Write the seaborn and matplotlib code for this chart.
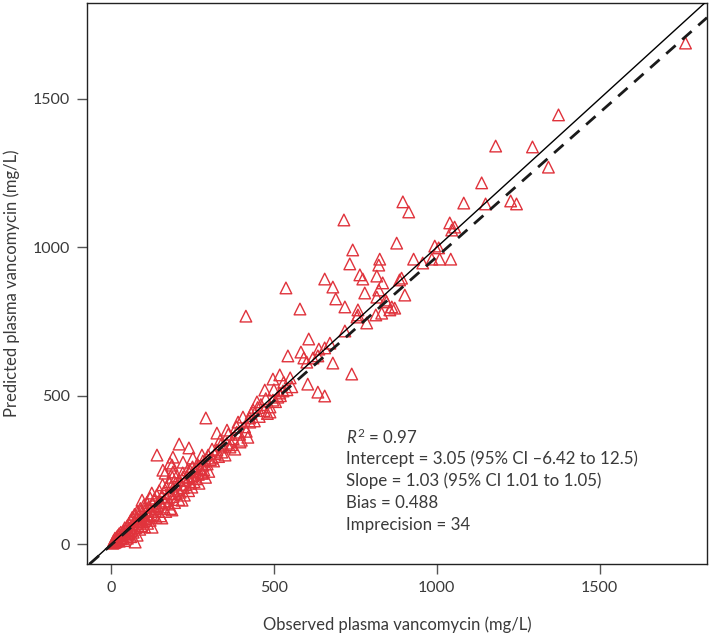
import numpy as np
import pandas as pd
import matplotlib
matplotlib.use('Agg')
import matplotlib.pyplot as plt
import seaborn as sns

# Observed vs predicted plasma vancomycin (mg/L)
observed = [
    1764, 1374, 1294, 1181, 1343, 1138, 1083, 1150, 1227, 1245,
    896, 914, 715, 877, 1040, 1055, 1046, 994, 1006, 742,
    929, 957, 985, 1009, 1043, 733, 825, 822, 764, 773,
    816, 892, 886, 834, 681, 779, 822, 816, 902, 690,
    846, 718, 758, 862, 871, 656, 537, 580, 843, 856,
    831, 813, 758, 755, 785, 718, 607, 672, 656, 635,
    620, 583, 592, 543, 681, 739, 604, 635, 656, 518,
    528, 414, 601, 638, 518, 497, 472, 512, 448, 488,
    497, 488, 436, 405, 426, 291, 141, 209, 239, 325,
    356, 390, 386, 396, 365, 337, 325, 426, 190, 181,
    221, 251, 279, 310, 282, 264, 242, 159, 190, 221,
    282, 74, 187,
    5, 8, 10, 12, 15, 18, 20, 22, 25, 25,
    28, 30, 32, 35, 38, 40, 40, 42, 45, 48,
    50, 50, 52, 55, 55, 58, 60, 60, 62, 65,
    65, 68, 70, 72, 75, 78, 80, 80, 82, 85,
    88, 90, 90, 92, 95, 95, 98, 100, 100, 103,
    105, 108, 110, 110, 112, 115, 118, 120, 120, 122,
    125, 126, 128, 130, 132, 135, 138, 140, 142, 145,
    148, 150, 152, 155, 156, 158, 160, 162, 165, 166,
    168, 170, 172, 175, 178, 180, 182, 185, 187, 188,
    190, 192, 195, 198, 200,
    202, 205, 208, 210, 212, 215, 218, 220, 222, 225,
    228, 230, 235, 238, 240, 245, 248, 250, 252, 255,
    258, 262, 265, 268, 270, 275, 279, 282, 285, 290,
    295, 298, 300, 305,
    310, 315, 320, 330, 335, 340, 345, 350, 355, 360,
    370, 375, 380, 385, 395, 400, 410, 415, 420,
    430, 440, 450, 455, 460, 470, 475, 480, 500, 505,
    520, 530, 540, 550, 555,
]
predicted = [
    1688, 1446, 1338, 1341, 1270, 1217, 1149, 1146, 1156, 1146,
    1153, 1119, 1092, 1014, 1082, 1068, 1058, 1004, 998, 991,
    960, 947, 960, 960, 960, 944, 960, 940, 907, 893,
    903, 896, 890, 880, 866, 846, 856, 832, 839, 826,
    816, 799, 789, 799, 795, 893, 863, 792, 822, 789,
    778, 772, 772, 765, 745, 718, 691, 677, 661, 634,
    627, 647, 627, 634, 610, 573, 539, 512, 499, 509,
    516, 768, 613, 657, 570, 556, 519, 495, 479, 462,
    485, 445, 452, 428, 425, 425, 300, 337, 324, 374,
    384, 411, 377, 344, 327, 334, 317, 411, 293, 273,
    276, 290, 300, 290, 266, 256, 249, 249, 243, 226,
    239, 7, 266,
    3, 12, 5, 20, 8, 25, 15, 30, 10, 35,
    22, 40, 18, 28, 45, 12, 35, 55, 30, 40,
    62, 20, 48, 35, 70, 55, 25, 80, 45, 60,
    90, 40, 75, 100, 55, 85, 30, 110, 68, 95,
    50, 120, 80, 62, 105, 148, 75, 90, 130, 58,
    115, 85, 140, 100, 70, 125, 95, 155, 80, 110,
    172, 57, 135, 100, 150, 120, 90, 165, 130, 110,
    180, 140, 95, 160, 88, 200, 125, 175, 145, 239,
    110, 190, 155, 135, 210, 170, 120, 195, 115, 225,
    160, 180, 140, 205, 170,
    230, 185, 150, 215, 175, 200, 148, 240, 190, 165,
    215, 200, 250, 180, 225, 205, 192, 260, 230, 210,
    245, 220, 270, 235, 205, 255, 239, 280, 250, 225,
    270, 300, 245, 285,
    320, 280, 305, 295, 350, 310, 330, 300, 340, 370,
    335, 355, 320, 395, 370, 350, 395, 380, 360,
    440, 415, 460, 430, 470, 450, 490, 440, 520, 480,
    500, 545, 520, 560, 530,
]

# fitted line and statistics reported in the panel
intercept = 3.05
slope = 1.03
stats_lines = [
    r'$R^2$ = 0.97',
    'Intercept = 3.05 (95% CI \u20136.42 to 12.5)',
    'Slope = 1.03 (95% CI 1.01 to 1.05)',
    'Bias = 0.488',
    'Imprecision = 34',
]
x_ticks = [0, 500, 1000, 1500]
y_ticks = [0, 500, 1000, 1500]

df = pd.DataFrame({'obs': observed, 'pred': predicted})

sns.set_style('ticks')
plt.rcParams['font.family'] = ['Lato', 'DejaVu Sans']
plt.rcParams['mathtext.fontset'] = 'custom'
plt.rcParams['mathtext.rm'] = 'Lato'
plt.rcParams['mathtext.it'] = 'Lato:italic'

red = '#e0333c'
grey = '#3a3a3a'

fig = plt.figure(figsize=(7.1, 6.34), dpi=100)
ax = fig.add_axes([0.1225, 0.1104, 0.8733, 0.8849])

sns.scatterplot(data=df, x='obs', y='pred', ax=ax, marker='^', s=70,
                facecolor='none', edgecolor=red, linewidth=1.0, zorder=2)

# identity line and fitted line
ax.axline((0, 0), slope=1, color='black', lw=1.0, zorder=3)
ax.axline((intercept, 0), slope=1 / slope, color='#1a1a1a', lw=2.0,
          dashes=(4.5, 3.2), zorder=3)

ax.set_xlim(-74, 1830)
ax.set_ylim(-67, 1823)
ax.set_xticks(x_ticks)
ax.set_yticks(y_ticks)
ax.tick_params(axis='both', length=7, width=1, color='#555555',
               labelsize=11.5, labelcolor=grey, pad=5)
for sp in ax.spines.values():
    sp.set_color('#222222')
    sp.set_linewidth(1.0)

ax.set_xlabel('Observed plasma vancomycin (mg/L)', fontsize=12, color=grey, labelpad=16)
ax.set_ylabel('Predicted plasma vancomycin (mg/L)', fontsize=12, color=grey, labelpad=9)

for i, line in enumerate(stats_lines):
    ax.annotate(line, xy=(0.418, 0.226), xycoords='axes fraction',
                xytext=(0, -i * 15.8), textcoords='offset points',
                fontsize=12.2, color=grey, va='center', ha='left')

fig.savefig('out.png', dpi=100)
